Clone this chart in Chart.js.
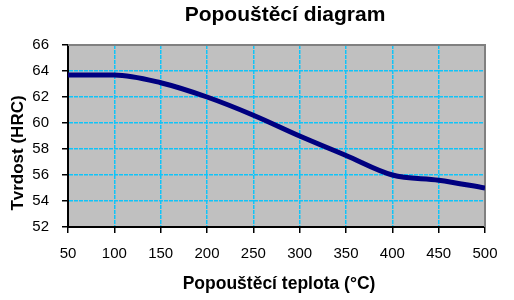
<!DOCTYPE html>
<html>
<head>
<meta charset="utf-8">
<script src="https://cdn.jsdelivr.net/npm/chart.js@4"></script>
<style>
  html, body { margin: 0; padding: 0; background: #fff; }
  #wrap { width: 514px; height: 300px; }
</style>
</head>
<body>
<div id="wrap"><canvas id="chart" width="514" height="300"></canvas></div>
<script>
// Popouštěcí diagram - tvrdost vs. teplota popouštění
const teploty = [50, 100, 150, 200, 250, 300, 350, 400, 450, 500];
const tvrdost = [63.7, 63.7, 63.1, 62.0, 60.6, 59.0, 57.5, 56.0, 55.6, 55.0];
const titulek = 'Popouštěcí diagram';
const osaX = 'Popouštěcí teplota (°C)';
const osaY = 'Tvrdost (HRC)';

const FONT = '"Liberation Sans", Arial, sans-serif';
const GRID = '#10c4f8';

// gray plot background + gray top/right frame, titles drawn by hand
const frame = {
  id: 'frame',
  beforeDraw(chart){
    const {ctx, chartArea: a} = chart;
    ctx.save();
    ctx.fillStyle = '#c0c0c0';
    ctx.fillRect(a.left, a.top, a.right - a.left, a.bottom - a.top);
    ctx.restore();
  },
  beforeDatasetsDraw(chart){
    const {ctx, chartArea: a} = chart;
    ctx.save();
    ctx.strokeStyle = '#808080';
    ctx.lineWidth = 2;
    ctx.beginPath();
    ctx.moveTo(a.left, a.top);
    ctx.lineTo(a.right, a.top);
    ctx.lineTo(a.right, a.bottom);
    ctx.stroke();
    ctx.restore();
  },
  afterDraw(chart){
    const ctx = chart.ctx;
    ctx.save();
    ctx.fillStyle = '#000';
    ctx.textAlign = 'center';
    ctx.textBaseline = 'alphabetic';
    ctx.font = 'bold 21px ' + FONT;
    ctx.fillText(titulek, 285, 21);
    ctx.font = 'bold 17.5px ' + FONT;
    ctx.fillText(osaX, 279, 289);
    ctx.font = 'bold 17px ' + FONT;
    ctx.translate(23, 153);
    ctx.rotate(-Math.PI / 2);
    ctx.fillText(osaY, 0, 0);
    ctx.restore();
  }
};

new Chart(document.getElementById('chart'), {
  type: 'line',
  data: {
    datasets: [{
      data: teploty.map((t, i) => ({x: t, y: tvrdost[i]})),
      borderColor: '#000080',
      borderWidth: 5,
      pointRadius: 0,
      cubicInterpolationMode: 'monotone',
      fill: false
    }]
  },
  options: {
    responsive: false,
    animation: false,
    layout: { padding: { left: 0, right: 29, top: 45, bottom: 0 } },
    plugins: { legend: { display: false }, title: { display: false }, tooltip: { enabled: false } },
    scales: {
      x: {
        type: 'linear', min: 50, max: 500,
        afterFit(s){ s.height = 73; },
        ticks: { stepSize: 50, color: '#000', padding: 12, font: { family: FONT, size: 15 }, maxRotation: 0 },
        grid: { color: GRID, lineWidth: 1.5, tickLength: 6, tickColor: '#000', tickWidth: 1.5 },
        border: { color: '#000', width: 2, dash: [4, 1] }
      },
      y: {
        type: 'linear', min: 52, max: 66,
        afterFit(s){ s.width = 68; },
        ticks: { stepSize: 2, color: '#000', padding: 13, font: { family: FONT, size: 15 } },
        grid: { color: GRID, lineWidth: 1.5, tickLength: 6, tickColor: '#000', tickWidth: 1.5 },
        border: { color: '#000', width: 2, dash: [4, 1] }
      }
    }
  },
  plugins: [frame]
});
</script>
</body>
</html>
